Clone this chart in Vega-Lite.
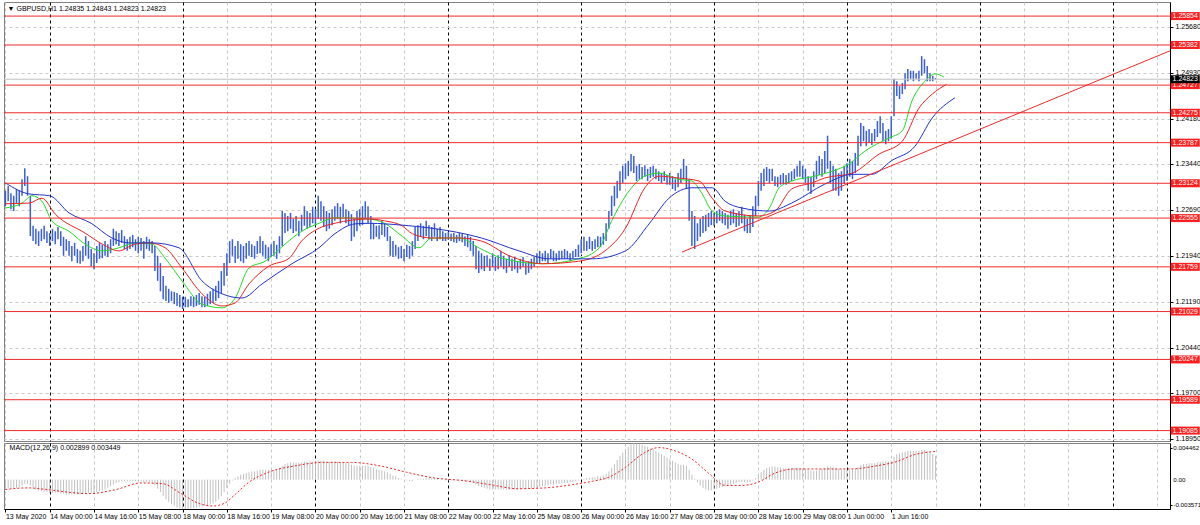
{
"$schema":"https://vega.github.io/schema/vega-lite/v6.json",
"background":"#ffffff",
"padding":{"left":2,"top":1,"right":0,"bottom":0},
"spacing":2,
"bounds":"flush",
"resolve":{"scale":{"x":"independent","y":"independent"}},
"config":{"font":"Liberation Sans","view":{"stroke":"#808080","strokeWidth":1},"axis":{"labelFont":"Liberation Sans","labelFontSize":7,"labelColor":"#000000","tickColor":"#000000","domainColor":"#000000","title":null}},
"datasets":{
"bars":[
{"i":0,"h":1.23,"l":1.2275,"m":-0.0012},{"i":1,"h":1.2308,"l":1.2283,"m":-0.0011},{"i":2,"h":1.2296,"l":1.227,"m":-0.0011},{"i":3,"h":1.2292,"l":1.2267,"m":-0.001},{"i":4,"h":1.2303,"l":1.2279,"m":-0.001},{"i":5,"h":1.23,"l":1.2275,"m":-0.0009},{"i":6,"h":1.2319,"l":1.2292,"m":-0.0007},{"i":7,"h":1.2337,"l":1.2308,"m":-0.0005},{"i":8,"h":1.2324,"l":1.2292,"m":-0.0005},{"i":9,"h":1.2292,"l":1.2226,"m":-0.0007},
{"i":10,"h":1.2243,"l":1.2218,"m":-0.001},{"i":11,"h":1.2238,"l":1.2213,"m":-0.0012},{"i":12,"h":1.2234,"l":1.221,"m":-0.0013},{"i":13,"h":1.2238,"l":1.2218,"m":-0.0014},{"i":14,"h":1.2243,"l":1.2221,"m":-0.0015},{"i":15,"h":1.2234,"l":1.2215,"m":-0.0015},{"i":16,"h":1.2231,"l":1.221,"m":-0.0016},{"i":17,"h":1.2238,"l":1.2218,"m":-0.0016},{"i":18,"h":1.2234,"l":1.2213,"m":-0.0016},{"i":19,"h":1.2241,"l":1.2221,"m":-0.0016},
{"i":20,"h":1.2234,"l":1.221,"m":-0.0017},{"i":21,"h":1.2225,"l":1.2194,"m":-0.0017},{"i":22,"h":1.2221,"l":1.2202,"m":-0.0018},{"i":23,"h":1.2218,"l":1.2194,"m":-0.0018},{"i":24,"h":1.221,"l":1.2185,"m":-0.0018},{"i":25,"h":1.2215,"l":1.2194,"m":-0.0018},{"i":26,"h":1.2205,"l":1.2182,"m":-0.0018},{"i":27,"h":1.2202,"l":1.2181,"m":-0.0018},{"i":28,"h":1.221,"l":1.2185,"m":-0.0017},{"i":29,"h":1.2226,"l":1.2194,"m":-0.0017},
{"i":30,"h":1.2218,"l":1.2189,"m":-0.0016},{"i":31,"h":1.2205,"l":1.2177,"m":-0.0016},{"i":32,"h":1.2198,"l":1.2172,"m":-0.0016},{"i":33,"h":1.221,"l":1.2182,"m":-0.0015},{"i":34,"h":1.2215,"l":1.2189,"m":-0.0014},{"i":35,"h":1.2212,"l":1.219,"m":-0.0013},{"i":36,"h":1.2218,"l":1.2194,"m":-0.0012},{"i":37,"h":1.2213,"l":1.2192,"m":-0.001},{"i":38,"h":1.2221,"l":1.2198,"m":-0.0008},{"i":39,"h":1.2238,"l":1.221,"m":-0.0006},
{"i":40,"h":1.2234,"l":1.2213,"m":-0.0004},{"i":41,"h":1.2231,"l":1.221,"m":-0.0003},{"i":42,"h":1.2236,"l":1.2215,"m":-0.0002},{"i":43,"h":1.2226,"l":1.2205,"m":-0.0002},{"i":44,"h":1.2221,"l":1.2202,"m":-0.0002},{"i":45,"h":1.2225,"l":1.2205,"m":-0.0002},{"i":46,"h":1.2228,"l":1.2208,"m":-0.0002},{"i":47,"h":1.2221,"l":1.2202,"m":-0.0002},{"i":48,"h":1.2225,"l":1.2198,"m":-0.0002},{"i":49,"h":1.2223,"l":1.2202,"m":-0.0002},
{"i":50,"h":1.2218,"l":1.2189,"m":-0.0003},{"i":51,"h":1.2225,"l":1.2205,"m":-0.0003},{"i":52,"h":1.2221,"l":1.2202,"m":-0.0003},{"i":53,"h":1.2218,"l":1.2198,"m":-0.0004},{"i":54,"h":1.221,"l":1.2169,"m":-0.0007},{"i":55,"h":1.2194,"l":1.2153,"m":-0.0011},{"i":56,"h":1.2182,"l":1.2136,"m":-0.0015},{"i":57,"h":1.2161,"l":1.2123,"m":-0.002},{"i":58,"h":1.2145,"l":1.212,"m":-0.0024},{"i":59,"h":1.214,"l":1.2117,"m":-0.0027},
{"i":60,"h":1.2136,"l":1.212,"m":-0.003},{"i":61,"h":1.2135,"l":1.2115,"m":-0.0032},{"i":62,"h":1.2133,"l":1.2112,"m":-0.0034},{"i":63,"h":1.213,"l":1.211,"m":-0.0035},{"i":64,"h":1.2127,"l":1.2107,"m":-0.00355},{"i":65,"h":1.2127,"l":1.211,"m":-0.00357},{"i":66,"h":1.2123,"l":1.211,"m":-0.00355},{"i":67,"h":1.2128,"l":1.2112,"m":-0.0035},{"i":68,"h":1.2127,"l":1.211,"m":-0.00345},{"i":69,"h":1.213,"l":1.2112,"m":-0.0034},
{"i":70,"h":1.2133,"l":1.2114,"m":-0.00335},{"i":71,"h":1.2128,"l":1.211,"m":-0.0033},{"i":72,"h":1.2127,"l":1.211,"m":-0.0032},{"i":73,"h":1.2132,"l":1.2112,"m":-0.0031},{"i":74,"h":1.2136,"l":1.2115,"m":-0.003},{"i":75,"h":1.214,"l":1.2117,"m":-0.0029},{"i":76,"h":1.2145,"l":1.212,"m":-0.0027},{"i":77,"h":1.2153,"l":1.2125,"m":-0.0024},{"i":78,"h":1.2169,"l":1.2133,"m":-0.002},{"i":79,"h":1.2182,"l":1.2145,"m":-0.0015},
{"i":80,"h":1.2198,"l":1.2161,"m":-0.001},{"i":81,"h":1.2218,"l":1.2182,"m":-0.0005},{"i":82,"h":1.2221,"l":1.2194,"m":-0.0001},{"i":83,"h":1.221,"l":1.2182,"m":0.0002},{"i":84,"h":1.2218,"l":1.2189,"m":0.0004},{"i":85,"h":1.2213,"l":1.2185,"m":0.0006},{"i":86,"h":1.221,"l":1.2182,"m":0.0007},{"i":87,"h":1.2215,"l":1.2189,"m":0.0008},{"i":88,"h":1.2218,"l":1.2194,"m":0.0009},{"i":89,"h":1.2213,"l":1.2192,"m":0.001},
{"i":90,"h":1.221,"l":1.2189,"m":0.001},{"i":91,"h":1.2218,"l":1.2197,"m":0.0011},{"i":92,"h":1.2226,"l":1.2198,"m":0.0012},{"i":93,"h":1.2218,"l":1.2194,"m":0.0012},{"i":94,"h":1.2212,"l":1.2189,"m":0.0012},{"i":95,"h":1.2208,"l":1.2185,"m":0.0012},{"i":96,"h":1.2213,"l":1.2192,"m":0.0012},{"i":97,"h":1.2218,"l":1.2194,"m":0.0012},{"i":98,"h":1.2212,"l":1.2189,"m":0.0012},{"i":99,"h":1.2226,"l":1.2198,"m":0.0014},
{"i":100,"h":1.2267,"l":1.221,"m":0.0017},{"i":101,"h":1.2264,"l":1.2231,"m":0.0019},{"i":102,"h":1.2259,"l":1.2234,"m":0.002},{"i":103,"h":1.2264,"l":1.2238,"m":0.0021},{"i":104,"h":1.2254,"l":1.2231,"m":0.0021},{"i":105,"h":1.2259,"l":1.2234,"m":0.0021},{"i":106,"h":1.2251,"l":1.2226,"m":0.0021},{"i":107,"h":1.2261,"l":1.2234,"m":0.0021},{"i":108,"h":1.2275,"l":1.2243,"m":0.0022},{"i":109,"h":1.2267,"l":1.2238,"m":0.0022},
{"i":110,"h":1.2264,"l":1.2241,"m":0.0022},{"i":111,"h":1.2274,"l":1.2247,"m":0.0022},{"i":112,"h":1.227,"l":1.2244,"m":0.0022},{"i":113,"h":1.2292,"l":1.2254,"m":0.0023},{"i":114,"h":1.2283,"l":1.2251,"m":0.0023},{"i":115,"h":1.2275,"l":1.2241,"m":0.0023},{"i":116,"h":1.2267,"l":1.2234,"m":0.0022},{"i":117,"h":1.2264,"l":1.2238,"m":0.0022},{"i":118,"h":1.227,"l":1.2244,"m":0.0022},{"i":119,"h":1.2275,"l":1.2251,"m":0.0022},
{"i":120,"h":1.228,"l":1.2254,"m":0.0022},{"i":121,"h":1.2274,"l":1.2247,"m":0.0021},{"i":122,"h":1.2279,"l":1.2257,"m":0.0021},{"i":123,"h":1.227,"l":1.2247,"m":0.0021},{"i":124,"h":1.2267,"l":1.2243,"m":0.002},{"i":125,"h":1.2262,"l":1.2218,"m":0.0018},{"i":126,"h":1.2254,"l":1.2225,"m":0.0017},{"i":127,"h":1.2267,"l":1.2234,"m":0.0017},{"i":128,"h":1.227,"l":1.2243,"m":0.0017},{"i":129,"h":1.2275,"l":1.2244,"m":0.0017},
{"i":130,"h":1.2283,"l":1.2254,"m":0.0017},{"i":131,"h":1.2275,"l":1.2247,"m":0.0017},{"i":132,"h":1.2259,"l":1.2221,"m":0.0015},{"i":133,"h":1.2247,"l":1.2221,"m":0.0014},{"i":134,"h":1.2243,"l":1.2225,"m":0.0013},{"i":135,"h":1.2244,"l":1.2221,"m":0.0012},{"i":136,"h":1.2251,"l":1.2228,"m":0.0011},{"i":137,"h":1.2247,"l":1.2225,"m":0.001},{"i":138,"h":1.2241,"l":1.2218,"m":0.0009},{"i":139,"h":1.2226,"l":1.2194,"m":0.0007},
{"i":140,"h":1.2218,"l":1.2192,"m":0.0005},{"i":141,"h":1.2212,"l":1.2194,"m":0.0004},{"i":142,"h":1.2208,"l":1.2189,"m":0.0002},{"i":143,"h":1.221,"l":1.219,"m":0.0001},{"i":144,"h":1.2205,"l":1.2185,"m":0},{"i":145,"h":1.2212,"l":1.2192,"m":-0.0001},{"i":146,"h":1.221,"l":1.2189,"m":-0.0002},{"i":147,"h":1.2218,"l":1.2194,"m":-0.0002},{"i":148,"h":1.2241,"l":1.2205,"m":0},{"i":149,"h":1.2244,"l":1.2218,"m":0.0001},
{"i":150,"h":1.2247,"l":1.2225,"m":0.0001},{"i":151,"h":1.2243,"l":1.2221,"m":0.0001},{"i":152,"h":1.2251,"l":1.2226,"m":0.0002},{"i":153,"h":1.2244,"l":1.2221,"m":0.0002},{"i":154,"h":1.2241,"l":1.2218,"m":0.0002},{"i":155,"h":1.2247,"l":1.2225,"m":0.0001},{"i":156,"h":1.2238,"l":1.2218,"m":0.0001},{"i":157,"h":1.2241,"l":1.2221,"m":0},{"i":158,"h":1.2234,"l":1.2218,"m":0},{"i":159,"h":1.2231,"l":1.2218,"m":-0.0001},
{"i":160,"h":1.2233,"l":1.222,"m":-0.0001},{"i":161,"h":1.223,"l":1.2218,"m":-0.0001},{"i":162,"h":1.2231,"l":1.2216,"m":-0.0001},{"i":163,"h":1.2228,"l":1.2215,"m":-0.0001},{"i":164,"h":1.2231,"l":1.2218,"m":-0.0001},{"i":165,"h":1.223,"l":1.2216,"m":-0.0001},{"i":166,"h":1.2226,"l":1.221,"m":-0.0002},{"i":167,"h":1.2228,"l":1.2208,"m":-0.0002},{"i":168,"h":1.2225,"l":1.2202,"m":-0.0003},{"i":169,"h":1.2218,"l":1.2194,"m":-0.0004},
{"i":170,"h":1.221,"l":1.2172,"m":-0.0006},{"i":171,"h":1.2202,"l":1.2166,"m":-0.0008},{"i":172,"h":1.2198,"l":1.2172,"m":-0.0009},{"i":173,"h":1.2194,"l":1.2169,"m":-0.001},{"i":174,"h":1.2195,"l":1.2176,"m":-0.0011},{"i":175,"h":1.2189,"l":1.2169,"m":-0.0012},{"i":176,"h":1.2198,"l":1.2176,"m":-0.0012},{"i":177,"h":1.2192,"l":1.2169,"m":-0.0012},{"i":178,"h":1.2195,"l":1.2172,"m":-0.0012},{"i":179,"h":1.2202,"l":1.2177,"m":-0.0012},
{"i":180,"h":1.2194,"l":1.2172,"m":-0.0012},{"i":181,"h":1.2189,"l":1.2166,"m":-0.0012},{"i":182,"h":1.2195,"l":1.2176,"m":-0.0012},{"i":183,"h":1.2189,"l":1.2169,"m":-0.0012},{"i":184,"h":1.2192,"l":1.2172,"m":-0.0012},{"i":185,"h":1.2185,"l":1.2166,"m":-0.0012},{"i":186,"h":1.2189,"l":1.2172,"m":-0.0012},{"i":187,"h":1.2192,"l":1.2176,"m":-0.0011},{"i":188,"h":1.2182,"l":1.2163,"m":-0.0011},{"i":189,"h":1.2185,"l":1.2166,"m":-0.0011},
{"i":190,"h":1.2189,"l":1.2172,"m":-0.0011},{"i":191,"h":1.2192,"l":1.2176,"m":-0.001},{"i":192,"h":1.2198,"l":1.2182,"m":-0.001},{"i":193,"h":1.2202,"l":1.2182,"m":-0.0009},{"i":194,"h":1.2198,"l":1.2185,"m":-0.0008},{"i":195,"h":1.2202,"l":1.2185,"m":-0.0008},{"i":196,"h":1.2198,"l":1.2182,"m":-0.0007},{"i":197,"h":1.2205,"l":1.2189,"m":-0.0006},{"i":198,"h":1.2202,"l":1.2185,"m":-0.0006},{"i":199,"h":1.2198,"l":1.2185,"m":-0.0005},
{"i":200,"h":1.2202,"l":1.2187,"m":-0.0005},{"i":201,"h":1.2202,"l":1.2189,"m":-0.0004},{"i":202,"h":1.2205,"l":1.2189,"m":-0.0004},{"i":203,"h":1.2202,"l":1.2189,"m":-0.0004},{"i":204,"h":1.2198,"l":1.2185,"m":-0.0003},{"i":205,"h":1.2202,"l":1.2189,"m":-0.0003},{"i":206,"h":1.2205,"l":1.2192,"m":-0.0002},{"i":207,"h":1.2212,"l":1.2192,"m":-0.0001},{"i":208,"h":1.2221,"l":1.2198,"m":0},{"i":209,"h":1.2225,"l":1.2202,"m":0.0001},
{"i":210,"h":1.2218,"l":1.2202,"m":0.0002},{"i":211,"h":1.2225,"l":1.2205,"m":0.0002},{"i":212,"h":1.2218,"l":1.2202,"m":0.0003},{"i":213,"h":1.2221,"l":1.2205,"m":0.0003},{"i":214,"h":1.2226,"l":1.2208,"m":0.0004},{"i":215,"h":1.2225,"l":1.2208,"m":0.0004},{"i":216,"h":1.2231,"l":1.2212,"m":0.0005},{"i":217,"h":1.2247,"l":1.2218,"m":0.0007},{"i":218,"h":1.2267,"l":1.2238,"m":0.001},{"i":219,"h":1.2292,"l":1.2259,"m":0.0014},
{"i":220,"h":1.2308,"l":1.2275,"m":0.0019},{"i":221,"h":1.2316,"l":1.2288,"m":0.0024},{"i":222,"h":1.2332,"l":1.23,"m":0.0029},{"i":223,"h":1.2341,"l":1.2313,"m":0.0033},{"i":224,"h":1.2345,"l":1.2319,"m":0.0037},{"i":225,"h":1.2349,"l":1.2324,"m":0.004},{"i":226,"h":1.236,"l":1.2332,"m":0.0043},{"i":227,"h":1.2357,"l":1.2329,"m":0.00446},{"i":228,"h":1.2341,"l":1.2316,"m":0.0044},{"i":229,"h":1.2344,"l":1.2319,"m":0.0043},
{"i":230,"h":1.2339,"l":1.2319,"m":0.0042},{"i":231,"h":1.2342,"l":1.2323,"m":0.0041},{"i":232,"h":1.2336,"l":1.2316,"m":0.004},{"i":233,"h":1.2339,"l":1.2321,"m":0.0038},{"i":234,"h":1.2341,"l":1.2323,"m":0.0037},{"i":235,"h":1.2336,"l":1.2319,"m":0.0035},{"i":236,"h":1.2332,"l":1.2316,"m":0.0033},{"i":237,"h":1.2329,"l":1.2313,"m":0.0031},{"i":238,"h":1.2332,"l":1.2316,"m":0.0029},{"i":239,"h":1.2326,"l":1.231,"m":0.0027},
{"i":240,"h":1.2329,"l":1.231,"m":0.0025},{"i":241,"h":1.2324,"l":1.2303,"m":0.0023},{"i":242,"h":1.2319,"l":1.23,"m":0.0021},{"i":243,"h":1.2329,"l":1.2306,"m":0.0019},{"i":244,"h":1.2336,"l":1.2313,"m":0.0018},{"i":245,"h":1.2352,"l":1.2319,"m":0.0018},{"i":246,"h":1.2341,"l":1.2303,"m":0.0017},{"i":247,"h":1.2319,"l":1.2251,"m":0.0012},{"i":248,"h":1.2267,"l":1.221,"m":0.0006},{"i":249,"h":1.2259,"l":1.2205,"m":0.0001},
{"i":250,"h":1.2247,"l":1.2218,"m":-0.0003},{"i":251,"h":1.2254,"l":1.2225,"m":-0.0007},{"i":252,"h":1.2259,"l":1.2231,"m":-0.001},{"i":253,"h":1.2261,"l":1.2234,"m":-0.0012},{"i":254,"h":1.2264,"l":1.2241,"m":-0.0013},{"i":255,"h":1.2267,"l":1.2244,"m":-0.0013},{"i":256,"h":1.2264,"l":1.2243,"m":-0.0012},{"i":257,"h":1.2267,"l":1.2247,"m":-0.0011},{"i":258,"h":1.227,"l":1.2251,"m":-0.001},{"i":259,"h":1.2267,"l":1.2247,"m":-0.0009},
{"i":260,"h":1.2264,"l":1.2244,"m":-0.0008},{"i":261,"h":1.2261,"l":1.2238,"m":-0.0007},{"i":262,"h":1.2267,"l":1.2244,"m":-0.0006},{"i":263,"h":1.227,"l":1.2247,"m":-0.0005},{"i":264,"h":1.2264,"l":1.2241,"m":-0.0004},{"i":265,"h":1.2267,"l":1.2243,"m":-0.0003},{"i":266,"h":1.2274,"l":1.2247,"m":-0.0003},{"i":267,"h":1.2261,"l":1.2234,"m":-0.0003},{"i":268,"h":1.2254,"l":1.2231,"m":-0.0003},{"i":269,"h":1.2259,"l":1.2231,"m":-0.0003},
{"i":270,"h":1.2275,"l":1.2241,"m":-0.0001},{"i":271,"h":1.2292,"l":1.2259,"m":0.0002},{"i":272,"h":1.2316,"l":1.2275,"m":0.0006},{"i":273,"h":1.2329,"l":1.23,"m":0.0009},{"i":274,"h":1.2336,"l":1.2308,"m":0.0012},{"i":275,"h":1.2339,"l":1.2316,"m":0.0014},{"i":276,"h":1.2336,"l":1.2313,"m":0.0015},{"i":277,"h":1.2336,"l":1.2316,"m":0.0016},{"i":278,"h":1.2324,"l":1.2308,"m":0.0016},{"i":279,"h":1.2323,"l":1.2306,"m":0.0015},
{"i":280,"h":1.2326,"l":1.231,"m":0.0015},{"i":281,"h":1.2329,"l":1.2311,"m":0.0014},{"i":282,"h":1.2326,"l":1.231,"m":0.0014},{"i":283,"h":1.2329,"l":1.2313,"m":0.0014},{"i":284,"h":1.2332,"l":1.2316,"m":0.0014},{"i":285,"h":1.2336,"l":1.2319,"m":0.0014},{"i":286,"h":1.2341,"l":1.2323,"m":0.0014},{"i":287,"h":1.2349,"l":1.2323,"m":0.0014},{"i":288,"h":1.2341,"l":1.2319,"m":0.0014},{"i":289,"h":1.2336,"l":1.2313,"m":0.0013},
{"i":290,"h":1.2324,"l":1.23,"m":0.0012},{"i":291,"h":1.2323,"l":1.2295,"m":0.0011},{"i":292,"h":1.2332,"l":1.2306,"m":0.0011},{"i":293,"h":1.2349,"l":1.2319,"m":0.0011},{"i":294,"h":1.2357,"l":1.2326,"m":0.0012},{"i":295,"h":1.2352,"l":1.2323,"m":0.0013},{"i":296,"h":1.2365,"l":1.2329,"m":0.0014},{"i":297,"h":1.239,"l":1.2336,"m":0.0016},{"i":298,"h":1.2349,"l":1.2313,"m":0.0016},{"i":299,"h":1.2341,"l":1.23,"m":0.0015},
{"i":300,"h":1.2336,"l":1.23,"m":0.0014},{"i":301,"h":1.2329,"l":1.2292,"m":0.0013},{"i":302,"h":1.2332,"l":1.23,"m":0.0012},{"i":303,"h":1.2341,"l":1.2311,"m":0.0012},{"i":304,"h":1.2345,"l":1.2316,"m":0.0012},{"i":305,"h":1.2352,"l":1.2323,"m":0.0012},{"i":306,"h":1.2349,"l":1.2319,"m":0.0012},{"i":307,"h":1.2362,"l":1.2329,"m":0.0013},{"i":308,"h":1.239,"l":1.2341,"m":0.0015},{"i":309,"h":1.2411,"l":1.2373,"m":0.0018},
{"i":310,"h":1.2406,"l":1.2381,"m":0.0019},{"i":311,"h":1.2398,"l":1.2373,"m":0.0019},{"i":312,"h":1.2401,"l":1.2378,"m":0.002},{"i":313,"h":1.2394,"l":1.2375,"m":0.002},{"i":314,"h":1.2401,"l":1.2381,"m":0.002},{"i":315,"h":1.2414,"l":1.2388,"m":0.0021},{"i":316,"h":1.2422,"l":1.2394,"m":0.0022},{"i":317,"h":1.2411,"l":1.2381,"m":0.0022},{"i":318,"h":1.2398,"l":1.2376,"m":0.0022},{"i":319,"h":1.2401,"l":1.2381,"m":0.0022},
{"i":320,"h":1.2422,"l":1.2385,"m":0.0023},{"i":321,"h":1.2483,"l":1.2422,"m":0.0028},{"i":322,"h":1.2479,"l":1.2455,"m":0.0031},{"i":323,"h":1.2471,"l":1.245,"m":0.0032},{"i":324,"h":1.2476,"l":1.2458,"m":0.0033},{"i":325,"h":1.2492,"l":1.2466,"m":0.0034},{"i":326,"h":1.2499,"l":1.2479,"m":0.0035},{"i":327,"h":1.2496,"l":1.2483,"m":0.0035},{"i":328,"h":1.2496,"l":1.2479,"m":0.0035},{"i":329,"h":1.2492,"l":1.2483,"m":0.0035},
{"i":330,"h":1.2496,"l":1.2479,"m":0.0035},{"i":331,"h":1.252,"l":1.2488,"m":0.0036},{"i":332,"h":1.2515,"l":1.2492,"m":0.0036},{"i":333,"h":1.2504,"l":1.2479,"m":0.0035},{"i":334,"h":1.2492,"l":1.2479,"m":0.0033},{"i":335,"h":1.2488,"l":1.2479,"m":0.0031},{"i":336,"h":1.24843,"l":1.24823,"m":0.002899}
],
"lips":[{"i":0,"p":1.2272},{"i":6,"p":1.228},{"i":9.6,"p":1.2292},{"i":13.2,"p":1.2283},{"i":16.8,"p":1.2251},{"i":23,"p":1.2234},{"i":28.8,"p":1.2213},{"i":35,"p":1.2202},{"i":41,"p":1.2207},{"i":46.8,"p":1.2215},{"i":53,"p":1.2213},{"i":57.7,"p":1.219},{"i":63.8,"p":1.2153},{"i":71,"p":1.2115},{"i":78.2,"p":1.2109},{"i":83,"p":1.2125},{"i":88,"p":1.2174},{"i":93.8,"p":1.2185},{"i":101,"p":1.2213},{"i":107,"p":1.2234},{"i":113.3,"p":1.2247},{"i":119,"p":1.2256},{"i":131.4,"p":1.2254},{"i":137,"p":1.2247},{"i":143.3,"p":1.2226},{"i":149.4,"p":1.2207},{"i":154,"p":1.2223},{"i":164,"p":1.2223},{"i":171,"p":1.2207},{"i":179.4,"p":1.219},{"i":194,"p":1.2181},{"i":207,"p":1.2189},{"i":214.5,"p":1.2207},{"i":219,"p":1.2251},{"i":225.3,"p":1.23},{"i":231,"p":1.2324},{"i":236,"p":1.2329},{"i":243,"p":1.2319},{"i":248,"p":1.2316},{"i":251.7,"p":1.2295},{"i":255.3,"p":1.2267},{"i":260,"p":1.2259},{"i":272,"p":1.2257},{"i":276,"p":1.2272},{"i":279.5,"p":1.2305},{"i":284,"p":1.2316},{"i":291.4,"p":1.2323},{"i":298.6,"p":1.2332},{"i":304.8,"p":1.2344},{"i":310.5,"p":1.2365},{"i":319,"p":1.2386},{"i":324,"p":1.2398},{"i":327.5,"p":1.2447},{"i":332.2,"p":1.2479},{"i":335.8,"p":1.2491},{"i":339,"p":1.2486}],
"teeth":[{"i":0,"p":1.2279},{"i":8.5,"p":1.228},{"i":13.2,"p":1.2288},{"i":18,"p":1.2262},{"i":28.8,"p":1.2231},{"i":35,"p":1.2213},{"i":41,"p":1.2202},{"i":46.8,"p":1.2213},{"i":51.9,"p":1.2215},{"i":57.7,"p":1.2207},{"i":63.8,"p":1.2174},{"i":71,"p":1.2132},{"i":78.2,"p":1.2112},{"i":83,"p":1.2117},{"i":88,"p":1.2148},{"i":95.2,"p":1.2177},{"i":102.5,"p":1.219},{"i":107,"p":1.2218},{"i":113.3,"p":1.2239},{"i":119,"p":1.2247},{"i":131.4,"p":1.2254},{"i":137,"p":1.2251},{"i":143.3,"p":1.2243},{"i":147,"p":1.223},{"i":154,"p":1.2223},{"i":164,"p":1.2223},{"i":172,"p":1.2218},{"i":182,"p":1.2194},{"i":194,"p":1.2181},{"i":207,"p":1.2185},{"i":216.6,"p":1.2202},{"i":224,"p":1.2239},{"i":231,"p":1.2305},{"i":236,"p":1.2324},{"i":243,"p":1.2321},{"i":250.6,"p":1.2316},{"i":255.3,"p":1.2288},{"i":260,"p":1.2267},{"i":272,"p":1.2259},{"i":278,"p":1.2267},{"i":284,"p":1.2303},{"i":291.4,"p":1.2313},{"i":296,"p":1.2321},{"i":306,"p":1.2329},{"i":315.6,"p":1.236},{"i":324,"p":1.2381},{"i":330,"p":1.2435},{"i":334.8,"p":1.2458},{"i":340,"p":1.2474}],
"jaw":[{"i":0,"p":1.2313},{"i":8.5,"p":1.2295},{"i":16,"p":1.2292},{"i":23,"p":1.2264},{"i":31,"p":1.2247},{"i":38.5,"p":1.2223},{"i":44.7,"p":1.2215},{"i":53,"p":1.2215},{"i":62.7,"p":1.2207},{"i":71,"p":1.2153},{"i":78.2,"p":1.2132},{"i":85.5,"p":1.2125},{"i":92.7,"p":1.2148},{"i":103.5,"p":1.2181},{"i":113.3,"p":1.2207},{"i":119,"p":1.223},{"i":126.3,"p":1.2246},{"i":131.4,"p":1.2247},{"i":143.3,"p":1.2244},{"i":154,"p":1.2239},{"i":172,"p":1.2223},{"i":185.5,"p":1.2202},{"i":196.4,"p":1.2189},{"i":212,"p":1.2189},{"i":224,"p":1.2202},{"i":232.5,"p":1.2246},{"i":239.7,"p":1.2288},{"i":248,"p":1.2305},{"i":255.3,"p":1.2305},{"i":260,"p":1.2283},{"i":266,"p":1.2272},{"i":276,"p":1.2267},{"i":284,"p":1.228},{"i":296,"p":1.2311},{"i":306,"p":1.2327},{"i":313,"p":1.2327},{"i":320,"p":1.2349},{"i":328.6,"p":1.2373},{"i":334.8,"p":1.2419},{"i":343,"p":1.2452}],
"signal":[{"i":0,"s":-0.0012},{"i":8,"s":-0.001},{"i":15,"s":-0.0012},{"i":22,"s":-0.0015},{"i":30,"s":-0.0017},{"i":40,"s":-0.0012},{"i":49,"s":-0.0004},{"i":57,"s":-0.0005},{"i":63,"s":-0.0016},{"i":70,"s":-0.0029},{"i":75,"s":-0.0032},{"i":79,"s":-0.0029},{"i":83,"s":-0.0018},{"i":88,"s":-0.0003},{"i":95,"s":0.0009},{"i":105,"s":0.0017},{"i":115,"s":0.0021},{"i":125,"s":0.0021},{"i":135,"s":0.0017},{"i":145,"s":0.0009},{"i":155,"s":0.0002},{"i":165,"s":-0.0001},{"i":175,"s":-0.0006},{"i":185,"s":-0.0011},{"i":195,"s":-0.001},{"i":205,"s":-0.0006},{"i":212,"s":-0.0002},{"i":218,"s":0.0003},{"i":224,"s":0.0015},{"i":230,"s":0.0031},{"i":236,"s":0.0039},{"i":242,"s":0.0035},{"i":248,"s":0.0025},{"i":254,"s":0.0008},{"i":260,"s":-0.0007},{"i":266,"s":-0.0007},{"i":272,"s":-0.0003},{"i":278,"s":0.0008},{"i":285,"s":0.0013},{"i":295,"s":0.0013},{"i":305,"s":0.0013},{"i":315,"s":0.0017},{"i":322,"s":0.0022},{"i":328,"s":0.003},{"i":336,"s":0.003449}],
"macdscale":[{"v":0.00385,"t":"0.004462"},{"v":0,"t":"0.00"},{"v":-0.00308,"t":"-0.003571"}],
"levels":[{"p":1.25854},{"p":1.25382},{"p":1.24727},{"p":1.24275},{"p":1.23787},{"p":1.23124},{"p":1.22555},{"p":1.21759},{"p":1.21029},{"p":1.20247},{"p":1.19589},{"p":1.19085}],
"trend":[{"i":244.4,"p":1.22},{"i":430,"p":1.2546}],
"last":[{"p":1.24823}]
},
"vconcat":[
{"width":1166,"height":439,
"layer":[
{"data":{"name":"bars"},"mark":{"type":"rule","color":"#3a5fdc","strokeWidth":1.5,"clip":true},
"encoding":{
"x":{"field":"i","type":"quantitative","scale":{"domain":[-0.506,420.7],"nice":false,"zero":false},
"axis":{"values":[0,8,16,24,32,40,48,56,64,72,80,88,96,104,112,120,128,136,144,152,160,168,176,184,192,200,208,216,224,232,240,248,256,264,272,280,288,296,304,312,320,328,336,344,352,360,368,376,384,392,400,408,416],"labels":false,"ticks":false,"domain":false,"minExtent":0,"maxExtent":0,"offset":0,"grid":true,"gridColor":{"condition":{"test":"datum.value>=16 && (datum.value-16)%24==0","value":"#000000"},"value":"#c8c8c8"},"gridDash":[3,3],"gridWidth":1,"title":null}},
"y":{"field":"h","type":"quantitative","scale":{"domain":[1.18915,1.26084],"nice":false,"zero":false},
"axis":{"orient":"right","values":[1.2568,1.2531,1.2493,1.2456,1.2418,1.2381,1.2344,1.2306,1.2269,1.2231,1.2194,1.2157,1.2119,1.2082,1.2044,1.2007,1.197,1.1932,1.1895],"format":".5f","grid":true,"gridColor":"#c8c8c8","gridDash":[3,3],"tickSize":3,"labelPadding":2,"labelOverlap":false,"title":null}},
"y2":{"field":"l"}}},
{"data":{"name":"lips"},"mark":{"type":"line","color":"#22dd22","strokeWidth":1,"interpolate":"monotone","clip":true},"encoding":{"x":{"field":"i","type":"quantitative"},"y":{"field":"p","type":"quantitative"}}},
{"data":{"name":"teeth"},"mark":{"type":"line","color":"#ee2222","strokeWidth":1,"interpolate":"monotone","clip":true},"encoding":{"x":{"field":"i","type":"quantitative"},"y":{"field":"p","type":"quantitative"}}},
{"data":{"name":"jaw"},"mark":{"type":"line","color":"#2233cc","strokeWidth":1,"interpolate":"monotone","clip":true},"encoding":{"x":{"field":"i","type":"quantitative"},"y":{"field":"p","type":"quantitative"}}},
{"data":{"name":"last"},"mark":{"type":"rule","color":"#c0c0c0","strokeWidth":1},"encoding":{"y":{"field":"p","type":"quantitative"}}},
{"data":{"name":"levels"},"mark":{"type":"rule","color":"#ee2a2a","strokeWidth":1},"encoding":{"y":{"field":"p","type":"quantitative"}}},
{"data":{"name":"trend"},"mark":{"type":"line","color":"#ee2a2a","strokeWidth":1,"clip":true},"encoding":{"x":{"field":"i","type":"quantitative"},"y":{"field":"p","type":"quantitative"}}},
{"data":{"name":"levels"},"mark":{"type":"tick","orient":"horizontal","color":"#ff1e1e","size":29,"thickness":8,"opacity":1,"clip":false},"encoding":{"x":{"datum":426.2},"y":{"field":"p","type":"quantitative"}}},
{"data":{"name":"levels"},"mark":{"type":"text","color":"#ffffff","fontSize":7,"font":"Liberation Sans","align":"center","baseline":"middle","clip":false},"encoding":{"x":{"datum":426.2},"y":{"field":"p","type":"quantitative"},"text":{"field":"p","type":"quantitative","format":".5f"}}},
{"data":{"name":"last"},"mark":{"type":"tick","orient":"horizontal","color":"#000000","size":29,"thickness":8,"opacity":1,"clip":false},"encoding":{"x":{"datum":426.2},"y":{"field":"p","type":"quantitative"}}},
{"data":{"name":"last"},"mark":{"type":"text","color":"#ffffff","fontSize":7,"font":"Liberation Sans","align":"center","baseline":"middle","clip":false},"encoding":{"x":{"datum":426.2},"y":{"field":"p","type":"quantitative"},"text":{"field":"p","type":"quantitative","format":".5f"}}},
{"data":{"values":[{"t":"▼ GBPUSD,H1  1.24835 1.24843 1.24823 1.24823"}]},"mark":{"type":"text","align":"left","baseline":"middle","fontSize":7,"font":"Liberation Sans","color":"#000000"},"encoding":{"x":{"datum":0.8},"y":{"datum":1.2597},"text":{"field":"t","type":"nominal"}}}
]},
{"width":1166,"height":66,
"layer":[
{"data":{"name":"bars"},"mark":{"type":"rule","color":"#c0c0c0","strokeWidth":1},
"encoding":{
"x":{"field":"i","type":"quantitative","scale":{"domain":[-0.506,420.7],"nice":false,"zero":false},
"axis":{"values":[0,8,16,24,32,40,48,56,64,72,80,88,96,104,112,120,128,136,144,152,160,168,176,184,192,200,208,216,224,232,240,248,256,264,272,280,288,296,304,312,320,328,336,344,352,360,368,376,384,392,400,408,416],
"labelExpr":"(datum.value % 16 == 0 && datum.value <= 320) ? ['13 May 2020','14 May 00:00','14 May 16:00','15 May 08:00','18 May 00:00','18 May 16:00','19 May 08:00','20 May 00:00','20 May 16:00','21 May 08:00','22 May 00:00','22 May 16:00','25 May 08:00','26 May 00:00','26 May 16:00','27 May 08:00','28 May 00:00','28 May 16:00','29 May 08:00','1 Jun 00:00','1 Jun 16:00'][datum.value / 16] : ''",
"labelAlign":"left","labelOverlap":false,"labelFlush":false,"tickSize":3,"labelPadding":0,
"tickColor":{"condition":{"test":"datum.value % 16 == 0 && datum.value <= 320","value":"#000000"},"value":"transparent"},
"grid":true,"gridColor":{"condition":{"test":"datum.value>=16 && (datum.value-16)%24==0","value":"#000000"},"value":"#c8c8c8"},"gridDash":[3,3],"title":null}},
"y":{"field":"m","type":"quantitative","scale":{"domain":[-0.003571,0.004462],"nice":false,"zero":false},
"axis":{"orient":"right","values":[0.00385,0,-0.00308],"labels":false,"grid":true,"gridColor":{"condition":{"test":"datum.value == 0","value":"#c8c8c8"},"value":"transparent"},"gridDash":[3,3],"tickSize":2,"title":null}},
"y2":{"datum":0}}},
{"data":{"name":"signal"},"mark":{"type":"line","color":"#ee2222","strokeWidth":1,"strokeDash":[2,2],"interpolate":"monotone"},"encoding":{"x":{"field":"i","type":"quantitative"},"y":{"field":"s","type":"quantitative"}}},
{"data":{"name":"macdscale"},"mark":{"type":"text","align":"left","baseline":"middle","fontSize":6.2,"font":"Liberation Sans","color":"#000000","clip":false},"encoding":{"x":{"datum":421.9},"y":{"field":"v","type":"quantitative"},"text":{"field":"t","type":"nominal"}}},
{"data":{"values":[{"t":"MACD(12,26,9) 0.002899 0.003449"}]},"mark":{"type":"text","align":"left","baseline":"middle","fontSize":7,"font":"Liberation Sans","color":"#000000"},"encoding":{"x":{"datum":1.5},"y":{"datum":0.0038},"text":{"field":"t","type":"nominal"}}}
]}
]
}
